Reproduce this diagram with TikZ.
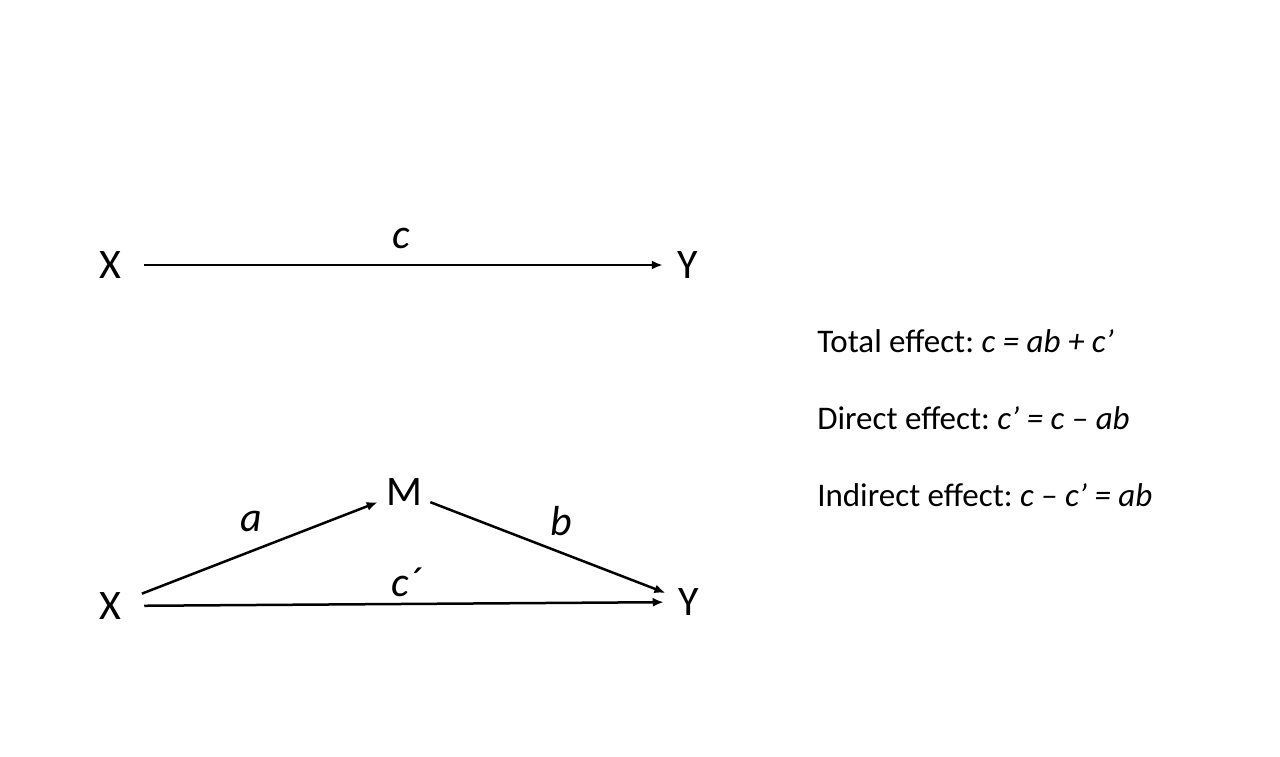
\documentclass[tikz,border=0pt]{standalone}
\usepackage{fontspec}
\setmainfont{Carlito}
\usetikzlibrary{arrows.meta}
\frenchspacing
\begin{document}
\begin{tikzpicture}[x=0.5pt, y=-0.5pt, line width=1.25pt,
  every node/.style={font=\fontsize{21}{25}\selectfont},
  var/.style={circle, inner sep=0pt}, eff/.style={-{Latex[length=5.5pt,width=4.5pt]}},
  lbl/.style={font=\fontsize{21}{25}\selectfont\itshape}, eq/.style={anchor=base west, inner sep=0pt, font=\fontsize{16.5}{20}\selectfont}]
  \useasboundingbox (0,0) rectangle (1280,756);
  % top: total effect only
  \node[var, minimum size=33pt] (x1) at (110,265) {X};
  \node[var, minimum size=24pt] (y1) at (688,265) {Y};
  \draw[eff] (x1) -- (y1);
  \node[lbl] (c) at (401,238) {c};
  % bottom: mediation through M
  \node[var, minimum size=33pt] (x2) at (110,606) {X};
  \node[var, minimum size=27pt] (m) at (404,492) {M};
  \node[var, minimum size=24pt] (y2) at (689,602) {Y};
  \draw[eff] (x2) -- (m); \draw[eff] (m) -- (y2); \draw[eff] (x2) -- (y2);
  \node[lbl] (a) at (251,521) {a};
  \node[lbl] (b) at (561,521) {b};
  \node[lbl] (cp) at (406,582) {c´};
  % effects
  \node[eq] (tot) at (816,352) {Total effect: \textit{c = ab + c’}};
  \node[eq] (dir) at (816,429) {Direct effect: \textit{c’ = c – ab}};
  \node[eq] (ind) at (816,506) {Indirect effect: \textit{c – c’ = ab}};
\end{tikzpicture}
\end{document}
